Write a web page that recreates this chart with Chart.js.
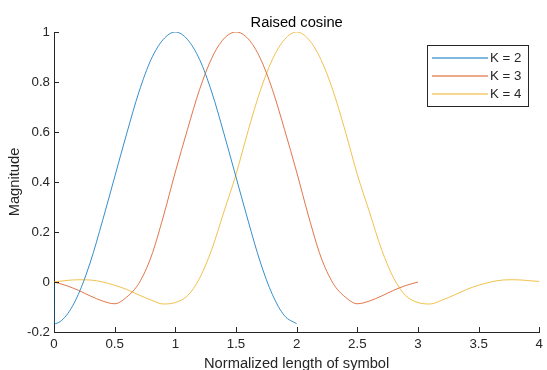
<!DOCTYPE html>
<html>
<head>
<meta charset="utf-8">
<script src="https://cdn.jsdelivr.net/npm/chart.js@4/dist/chart.umd.min.js"></script>
<style>
  html, body { margin: 0; padding: 0; background: #fff; }
  #wrap { width: 547px; height: 370px; }
</style>
</head>
<body>
<div id="wrap"><canvas id="rcChart" width="547" height="370"></canvas></div>
<script>
// Raised cosine pulses for K = 2, 3, 4 symbols
const seriesNames = ['K = 2', 'K = 3', 'K = 4'];
const seriesColors = ['#0072BD', '#D95319', '#EDB120'];

const xK2 = [0, 0.001, 0.1, 0.2, 0.3, 0.4, 0.5, 0.6, 0.7, 0.8, 0.9, 1.0,
  1.1, 1.2, 1.3, 1.4, 1.5, 1.6, 1.7, 1.8, 1.9, 2.0];
const yK2 = [0, -0.167, -0.135, -0.05, 0.08, 0.245, 0.42, 0.595, 0.76, 0.89, 0.97, 1.0,
  0.97, 0.89, 0.76, 0.595, 0.42, 0.245, 0.08, -0.05, -0.135, -0.167];

const xK3 = [0, 0.1, 0.2, 0.3, 0.4, 0.5, 0.6, 0.7, 0.8, 0.9, 1.0, 1.1, 1.2, 1.3, 1.4, 1.5,
  1.6, 1.7, 1.8, 1.9, 2.0, 2.1, 2.2, 2.3, 2.4, 2.5, 2.6, 2.7, 2.8, 2.9, 3.0];
const yK3 = [0, -0.014, -0.033, -0.056, -0.076, -0.087, -0.06, -0.005, 0.1, 0.26, 0.44,
  0.61, 0.77, 0.895, 0.973, 1.0, 0.973, 0.895, 0.77, 0.61, 0.44, 0.26, 0.1, -0.005,
  -0.06, -0.087, -0.076, -0.056, -0.033, -0.014, 0];

const xK4 = [0, 0.1, 0.2, 0.3, 0.4, 0.5, 0.6, 0.7, 0.8, 0.9, 1.0, 1.1, 1.2, 1.3, 1.4, 1.5,
  1.6, 1.7, 1.8, 1.9, 2.0, 2.1, 2.2, 2.3, 2.4, 2.5, 2.6, 2.7, 2.8, 2.9, 3.0, 3.1, 3.2,
  3.3, 3.4, 3.5, 3.6, 3.7, 3.8, 3.9, 4.0];
const yK4 = [0, 0.006, 0.009, 0.008, 0, -0.013, -0.03, -0.052, -0.072, -0.088, -0.082,
  -0.055, 0.015, 0.13, 0.28, 0.43, 0.605, 0.765, 0.89, 0.97, 1.0, 0.97, 0.89, 0.765,
  0.605, 0.43, 0.28, 0.13, 0.015, -0.055, -0.082, -0.088, -0.072, -0.052, -0.03, -0.013,
  0, 0.008, 0.009, 0.006, 0.002];

const xTicks = [0, 0.5, 1, 1.5, 2, 2.5, 3, 3.5, 4];
const yTicks = [-0.2, 0, 0.2, 0.4, 0.6, 0.8, 1];

const axisColor = '#262626';
const fontFamily = '"Liberation Sans", Arial, Helvetica, sans-serif';

function toPoints(xs, ys) {
  return xs.map((x, i) => ({ x: x, y: ys[i] }));
}

// plain tick text: 1 rather than 1.0
function tickText(v) {
  return String(+Number(v).toFixed(2));
}

const seriesData = [toPoints(xK2, yK2), toPoints(xK3, yK3), toPoints(xK4, yK4)];

// inward tick marks, title over the plot area and the boxed legend
const axisDecor = {
  id: 'axisDecor',
  afterDraw(chart) {
    const { ctx, chartArea: a, scales: { x, y } } = chart;
    ctx.save();
    ctx.strokeStyle = axisColor;
    ctx.lineWidth = 1;
    ctx.beginPath();
    x.ticks.forEach(t => {
      const px = Math.round(x.getPixelForValue(t.value)) + 0.5;
      ctx.moveTo(px, a.bottom);
      ctx.lineTo(px, a.bottom - 5);
    });
    y.ticks.forEach(t => {
      const py = Math.round(y.getPixelForValue(t.value)) + 0.5;
      ctx.moveTo(a.left, py);
      ctx.lineTo(a.left + 5, py);
    });
    ctx.stroke();

    ctx.fillStyle = '#000';
    ctx.font = '14.7px ' + fontFamily;
    ctx.textAlign = 'center';
    ctx.textBaseline = 'alphabetic';
    ctx.fillText('Raised cosine', (a.left + a.right) / 2, 26.5);

    // legend
    const bx = 427.5, by = 45.5, bw = 101, bh = 61;
    ctx.fillStyle = '#fff';
    ctx.fillRect(bx, by, bw, bh);
    ctx.strokeStyle = axisColor;
    ctx.strokeRect(bx, by, bw, bh);
    ctx.font = '13.3px ' + fontFamily;
    ctx.textAlign = 'left';
    ctx.textBaseline = 'middle';
    const rows = [58, 76, 94];
    seriesNames.forEach((name, i) => {
      ctx.strokeStyle = seriesColors[i];
      ctx.lineWidth = 1;
      ctx.beginPath();
      ctx.moveTo(432, rows[i]);
      ctx.lineTo(488, rows[i]);
      ctx.stroke();
      ctx.fillStyle = axisColor;
      ctx.fillText(name, 490, rows[i] + 0.5);
    });
    ctx.restore();
  }
};

const ctx = document.getElementById('rcChart').getContext('2d');
const rcChart = new Chart(ctx, {
  type: 'line',
  data: {
    datasets: seriesNames.map((name, i) => ({
      label: name,
      data: seriesData[i],
      borderColor: seriesColors[i],
      backgroundColor: seriesColors[i],
      borderWidth: 0.8,
      pointRadius: 0,
      fill: false,
      cubicInterpolationMode: 'monotone'
    }))
  },
  options: {
    responsive: false,
    animation: false,
    layout: { padding: { top: 32, right: 4, left: 0, bottom: 0 } },
    plugins: {
      legend: { display: false },
      tooltip: { enabled: false },
      title: { display: false }
    },
    scales: {
      x: {
        type: 'linear',
        min: 0,
        max: 4,
        afterBuildTicks: s => { s.ticks = xTicks.map(v => ({ value: v })); },
        afterFit: s => { s.height = 38; },
        grid: { drawOnChartArea: false, drawTicks: false },
        border: { display: true, color: axisColor, width: 1 },
        ticks: {
          color: axisColor,
          padding: 4,
          maxRotation: 0,
          callback: tickText,
          font: { family: fontFamily, size: 13.3 }
        },
        title: {
          display: true,
          text: 'Normalized length of symbol',
          color: axisColor,
          padding: { top: 0, bottom: -2.5 },
          font: { family: fontFamily, size: 14.7 }
        }
      },
      y: {
        type: 'linear',
        min: -0.2,
        max: 1,
        afterBuildTicks: s => { s.ticks = yTicks.map(v => ({ value: v })); },
        afterFit: s => { s.width = 54; },
        grid: { drawOnChartArea: false, drawTicks: false },
        border: { display: true, color: axisColor, width: 1 },
        ticks: {
          color: axisColor,
          padding: 4,
          callback: tickText,
          font: { family: fontFamily, size: 13.3 }
        },
        title: {
          display: true,
          text: 'Magnitude',
          color: axisColor,
          padding: { top: 6, bottom: 0 },
          font: { family: fontFamily, size: 14.7 }
        }
      }
    }
  },
  plugins: [axisDecor]
});
</script>
</body>
</html>
